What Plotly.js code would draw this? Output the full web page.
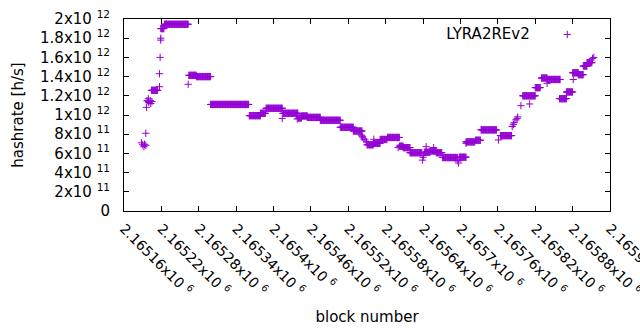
<!DOCTYPE html>
<html>
<head>
<meta charset="utf-8">
<script src="https://cdn.plot.ly/plotly-3.0.1.min.js"></script>
<style>html,body{margin:0;padding:0;background:#fff;}#chart{width:640px;height:330px;}</style>
</head>
<body>
<div id="chart"></div>
<script>
// Runs of consecutive blocks sharing the same hashrate (start block, end block, hashrate h/s)
const runStart = [2165204,2165219,2165225,2165264,2165276,2165299,2165361,2165379,2165388,2165415,2165441,2165445,2165454,2165475,2165507,2165528,2165550,2165560,2165571,2165583,2165602,2165608,2165619,2165642,2165651,2165661,2165671,2165698,2165709,2165724,2165733,2165764,2165800,2165820,2165830,2165839,2165859,2165870,2165880,2165889,2165897,2165903];
const runEnd   = [2165214,2165224,2165263,2165276,2165299,2165360,2165379,2165387,2165414,2165439,2165445,2165454,2165475,2165507,2165528,2165542,2165560,2165571,2165582,2165602,2165608,2165619,2165638,2165651,2165661,2165670,2165695,2165709,2165723,2165732,2165758,2165782,2165820,2165828,2165839,2165860,2165870,2165880,2165889,2165897,2165903,2165911];
const runValue = [1.257e12,1.90e12,1.945e12,1.413e12,1.40e12,1.11e12,0.993e12,1.018e12,1.07e12,1.018e12,0.97e12,0.99e12,0.975e12,0.945e12,0.872e12,0.833e12,0.69e12,0.705e12,0.745e12,0.766e12,0.675e12,0.66e12,0.607e12,0.612e12,0.625e12,0.607e12,0.557e12,0.56e12,0.72e12,0.737e12,0.845e12,0.785e12,1.20e12,1.285e12,1.385e12,1.37e12,1.17e12,1.24e12,1.44e12,1.42e12,1.51e12,1.545e12];

// Isolated blocks
const ptBlock = [2165188,2165190,2165192,2165193,2165195,2165195,2165196,2165197,2165199,2165199,2165200,2165202,2165203,2165205,2165217,2165217,2165218,2165219,2165219,2165263,2165414,2165438,2165440,2165541,2165542,2165543,2165545,2165547,2165549,2165561,2165600,2165639,2165640,2165641,2165645,2165657,2165696,2165697,2165709,2165761,2165783,2165785,2165786,2165789,2165791,2165792,2165797,2165811,2165839,2165881,2165912,2165914];
const ptValue = [7.1e11,6.9e11,6.7e11,6.95e11,6.85e11,8.1e11,1.08e12,1.15e12,1.14e12,1.17e12,1.13e12,1.15e12,1.12e12,1.14e12,1.295e12,1.43e12,1.60e12,1.78e12,1.80e12,1.32e12,0.965e12,0.958e12,0.965e12,0.79e12,0.78e12,0.77e12,0.75e12,0.74e12,0.72e12,0.747e12,0.66e12,0.53e12,0.56e12,0.58e12,0.67e12,0.66e12,0.52e12,0.50e12,0.705e12,0.74e12,0.88e12,0.90e12,0.92e12,0.95e12,0.965e12,0.98e12,1.097e12,1.115e12,1.33e12,1.37e12,1.59e12,1.60e12];

const xTickVals = [2165160,2165220,2165280,2165340,2165400,2165460,2165520,2165580,2165640,2165700,2165760,2165820,2165880,2165940];
const xTickMant = ["2.16516","2.16522","2.16528","2.16534","2.1654","2.16546","2.16552","2.16558","2.16564","2.1657","2.16576","2.16582","2.16588","2.16594"];
const yTickVals = [0,2e11,4e11,6e11,8e11,1e12,1.2e12,1.4e12,1.6e12,1.8e12,2e12];
const yTickMant = ["0","2","4","6","8","1","1.2","1.4","1.6","1.8","2"];
const yTickExp  = ["","11","11","11","11","12","12","12","12","12","12"];

const seriesName = "LYRA2REv2";

// expand runs: one point per block
const xs = [], ys = [];
for (let i = 0; i < runStart.length; i++) {
  for (let b = runStart[i]; b <= runEnd[i]; b++) { xs.push(b); ys.push(runValue[i]); }
}
for (let i = 0; i < ptBlock.length; i++) { xs.push(ptBlock[i]); ys.push(ptValue[i]); }

const FONT = "DejaVu Sans, sans-serif";
const color = "#9400d3";

const trace = {
  type: "scatter", mode: "markers", x: xs, y: ys, name: "",
  marker: {symbol: "cross-thin", size: 5.2, color: color, line: {color: color, width: 1}},
  showlegend: true
};

const layout = {
  width: 640, height: 330,
  margin: {l: 124, r: 30, t: 19, b: 119},
  paper_bgcolor: "#fff", plot_bgcolor: "#fff",
  font: {family: FONT, size: 14, color: "#000"},
  showlegend: true,
  legend: {
    x: 0.659, xanchor: "left", y: 0.995, yanchor: "top",
    bgcolor: "rgba(0,0,0,0)", borderwidth: 0,
    font: {family: FONT, size: 9},
    title: {text: seriesName + "\u00A0\u00A0", side: "left", font: {family: FONT, size: 15}},
    itemwidth: 30
  },
  xaxis: {
    range: [2165160, 2165940],
    tickmode: "array", tickvals: xTickVals,
    ticktext: xTickMant.map(m => m + "x10 <sup>6</sup>"),
    tickangle: 45,
    ticklabeloverflow: "allow",
    ticklabelstandoff: 3,
    ticks: "inside", ticklen: 5, tickcolor: "#000", tickwidth: 1,
    showline: true, linecolor: "#000", linewidth: 1, mirror: "allticks",
    showgrid: false, zeroline: false,
    tickfont: {family: FONT, size: 14},
    title: {text: "block number", font: {family: FONT, size: 15}, standoff: 13}
  },
  yaxis: {
    range: [0, 2e12],
    tickmode: "array", tickvals: yTickVals,
    ticktext: yTickMant.map((m, i) => yTickExp[i] ? m + "x10 <sup>" + yTickExp[i] + "</sup>" : m),
    ticks: "inside", ticklen: 5, tickcolor: "#000", tickwidth: 1,
    showline: true, linecolor: "#000", linewidth: 1, mirror: "allticks",
    showgrid: false, zeroline: false,
    ticklabeloverflow: "allow",
    tickfont: {family: FONT, size: 15},
    ticklabelstandoff: 10,
    title: {text: "hashrate [h/s]", font: {family: FONT, size: 15}, standoff: 12}
  }
};

Plotly.newPlot("chart", [trace], layout, {staticPlot: true});
</script>
</body>
</html>
